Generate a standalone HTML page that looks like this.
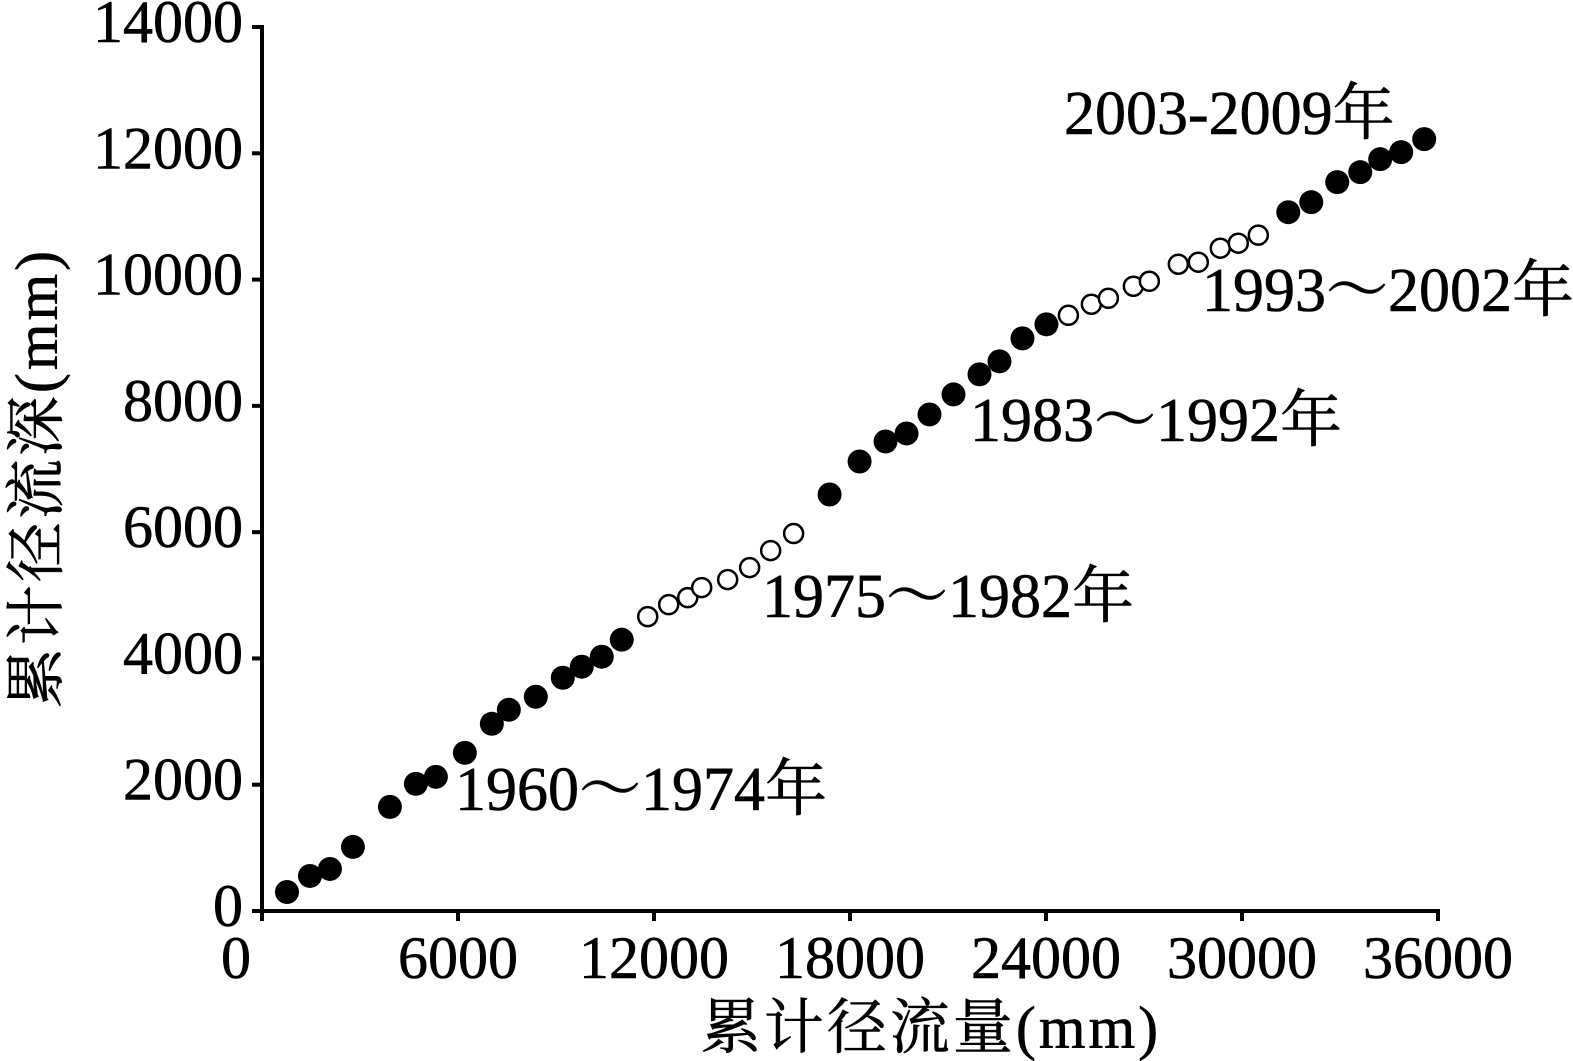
<!DOCTYPE html>
<html><head><meta charset="utf-8"><style>
html,body{margin:0;padding:0;background:#fff;}
svg{display:block;}
text{font-family:"Liberation Serif","Noto Serif CJK SC",serif;fill:#000;stroke:#000;stroke-width:0.6;}
</style></head><body>
<svg id="chart" width="1573" height="1061" viewBox="0 0 1573 1061" xmlns="http://www.w3.org/2000/svg"></svg>
<script>
const xTicks = [0, 6000, 12000, 18000, 24000, 30000, 36000];
const yTicks = [0, 2000, 4000, 6000, 8000, 10000, 12000, 14000];
const xVals1 = [765,1468,2080,2784,3916,4711,5323,6210,7036,7556,8382,9208,9789,10401,11013];
const yVals1 = [301,555,666,1015,1649,2014,2125,2505,2965,3187,3393,3694,3869,4027,4297];
const xVals2 = [11808,12450,13032,13460,14255,14928,15571,16274];
const yVals2 = [4662,4852,4963,5122,5249,5439,5708,5978];
const xVals3 = [17375,18293,19088,19731,20434,21168,21964,22576,23279,24013];
const yVals3 = [6596,7119,7436,7563,7864,8181,8499,8705,9069,9291];
const xVals4 = [24686,25390,25910,26675,27164,28051,28663,29336,29887,30499];
const yVals4 = [9434,9609,9704,9894,9973,10243,10275,10497,10576,10703];
const xVals5 = [31416,32120,32915,33619,34231,34873,35577];
const yVals5 = [11067,11226,11543,11701,11907,12018,12224];

const NS = "http://www.w3.org/2000/svg";
const svg = document.getElementById('chart');
const X0 = 262, X1 = 1438, Y0 = 911, Y1 = 27;
const sx = v => X0 + (v / 36000) * (X1 - X0);
const sy = v => Y0 - (v / 14000) * (Y0 - Y1);
function mk(tag, attrs) { const e = document.createElementNS(NS, tag); for (const k in attrs) e.setAttribute(k, attrs[k]); svg.appendChild(e); return e; }

let ax = mk('line', {x1: X0, y1: Y1 - 2, x2: X0, y2: Y0 + 4, stroke: '#000', 'stroke-width': 4});


ax = mk('line', {x1: 253, y1: Y0, x2: X1 + 2, y2: Y0, stroke: '#000', 'stroke-width': 4});



xTicks.forEach(t => {
  const tk = mk('line', {x1: sx(t), y1: Y0, x2: sx(t), y2: Y0 + 10, stroke: '#000', 'stroke-width': 4});
  
  
  const lb = mk('text', {x: sx(t) - (t === 0 ? 26 : 0), y: 978, 'font-size': 60, 'text-anchor': 'middle'});
  lb.textContent = t;
  
  
});
yTicks.forEach(t => {
  const tk = mk('line', {x1: X0 - 10, y1: sy(t), x2: X0, y2: sy(t), stroke: '#000', 'stroke-width': 4});
  
  
  const lb = mk('text', {x: 243, y: sy(t) + 15, 'font-size': 60, 'text-anchor': 'end'});
  lb.textContent = t;
  
  
});

function series(xs, ys, filled, name) {
  xs.forEach((x, i) => {
    const c = mk('circle', {cx: sx(x), cy: sy(ys[i]), r: filled ? 12 : 9.5, fill: filled ? '#000' : '#fff', stroke: '#000', 'stroke-width': filled ? 0 : 2.5});
    
    
  });
}
series(xVals1, yVals1, true, 'point-1960-1974');
series(xVals2, yVals2, false, 'point-1975-1982');
series(xVals3, yVals3, true, 'point-1983-1992');
series(xVals4, yVals4, false, 'point-1993-2002');
series(xVals5, yVals5, true, 'point-2003-2009');

const ann = [['1960～1974年', 455, 810, 'label-1960-1974'], ['1975～1982年', 762, 617, 'label-1975-1982'], ['1983～1992年', 970, 441, 'label-1983-1992'], ['1993～2002年', 1202, 311, 'label-1993-2002'], ['2003-2009年', 1064, 134, 'label-2003-2009']];
ann.forEach(a => {
  const t = mk('text', {x: a[1], y: a[2], 'font-size': 62});
  t.textContent = a[0];
  
  
});

let xt = mk('text', {x: 931, y: 1048, 'font-size': 60, 'text-anchor': 'middle', 'letter-spacing': 3});
xt.textContent = '累计径流量(mm)';


let yt = mk('text', {x: 0, y: 0, 'font-size': 60, 'text-anchor': 'middle', 'letter-spacing': 3, transform: 'translate(57,478) rotate(-90)'});
yt.textContent = '累计径流深(mm)';


</script>
</body></html>
